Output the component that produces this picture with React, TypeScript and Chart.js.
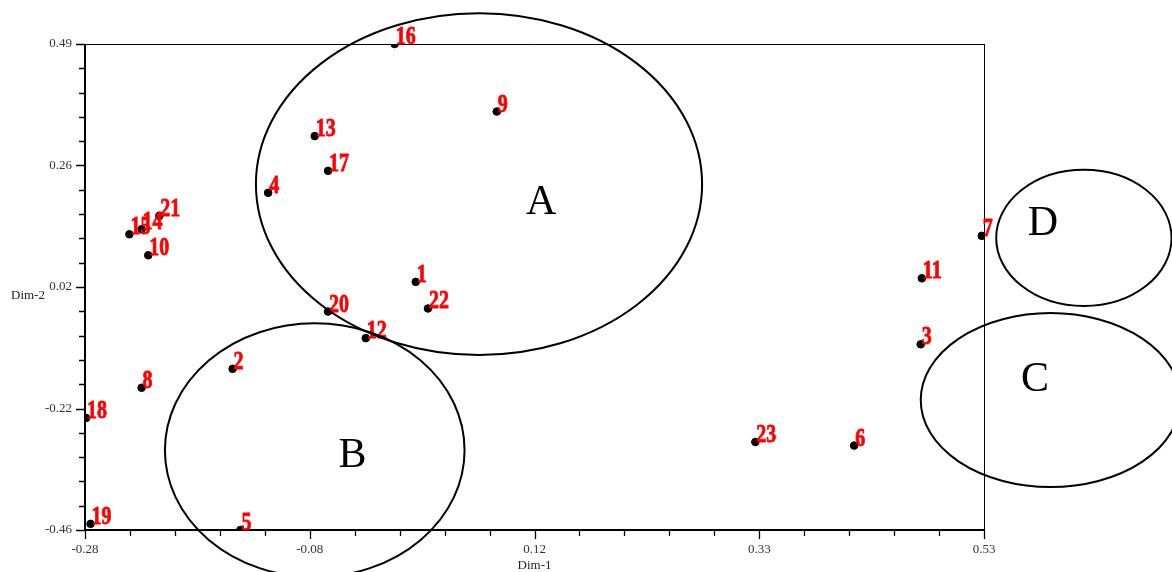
import React, { useEffect, useRef } from "react";
import { Chart, registerables } from "chart.js";

Chart.register(...registerables);

const pointIds = ["1","2","3","4","5","6","7","8","9","10","11","12","13","14","15","16","17","18","19","20","21","22","23"];
const dim1 = [0.018,-0.147,0.473,-0.115,-0.140,0.413,0.528,-0.229,0.091,-0.223,0.474,-0.027,-0.073,-0.229,-0.240,-0.001,-0.061,-0.279,-0.275,-0.061,-0.213,0.029,0.324];
const dim2 = [0.025,-0.145,-0.097,0.199,-0.460,-0.295,0.115,-0.182,0.358,0.077,0.032,-0.085,0.310,0.128,0.118,0.490,0.242,-0.241,-0.448,-0.033,0.154,-0.027,-0.288];

const xTickLabels = ["-0.28","-0.08","0.12","0.33","0.53"];
const yTickLabels = ["-0.46","-0.22","0.02","0.26","0.49"];
const xMin = -0.28, xMax = 0.53;
const yMin = -0.46, yMax = 0.49;

// ellipses in data units
const ellipseNames = ["A","B","C","D"];
const ellipseCx = [0.075,-0.073,0.590,0.620];
const ellipseCy = [0.216,-0.304,-0.206,0.111];
const ellipseRx = [0.201,0.135,0.117,0.079];
const ellipseRy = [0.334,0.248,0.170,0.133];
const ellipseLabelX = [0.131,-0.039,0.576,0.583];
const ellipseLabelY = [0.179,-0.315,-0.167,0.138];

const SERIF = "'Liberation Serif', 'Times New Roman', serif";

const overlay = {
  id: "overlay",
  afterDraw(chart: any) {
    const ctx = chart.ctx;
    const xs = chart.scales.x;
    const ys = chart.scales.y;
    const ca = chart.chartArea;
    ctx.save();
    // frame
    ctx.strokeStyle = "#000";
    ctx.lineWidth = 1;
    ctx.beginPath();
    ctx.moveTo(ca.left, ca.top + 0.5);
    ctx.lineTo(ca.right, ca.top + 0.5);
    ctx.moveTo(ca.right + 0.5, ca.top);
    ctx.lineTo(ca.right + 0.5, ca.bottom);
    ctx.stroke();
    ctx.lineWidth = 2;
    ctx.beginPath();
    ctx.moveTo(ca.left, ca.top);
    ctx.lineTo(ca.left, ca.bottom);
    ctx.lineTo(ca.right + 1, ca.bottom);
    ctx.stroke();
    // ticks
    ctx.lineWidth = 1.3;
    ctx.beginPath();
    xs.ticks.forEach((t: any, i: number) => {
      const px = Math.round(xs.getPixelForValue(t.value)) + 0.5;
      const len = i % 5 === 0 ? 9 : 6;
      ctx.moveTo(px, ca.bottom);
      ctx.lineTo(px, ca.bottom + len);
    });
    ys.ticks.forEach((t: any, i: number) => {
      const py = Math.round(ys.getPixelForValue(t.value)) + 0.5;
      const len = i % 5 === 0 ? 9 : 6;
      ctx.moveTo(ca.left, py);
      ctx.lineTo(ca.left - len, py);
    });
    ctx.stroke();
    // axis titles
    ctx.fillStyle = "#222";
    ctx.font = `13px ${SERIF}`;
    ctx.textBaseline = "middle";
    ctx.textAlign = "center";
    ctx.fillText("Dim-1", (ca.left + ca.right) / 2, 566);
    ctx.textAlign = "left";
    ctx.fillText("Dim-2", 11, (ca.top + ca.bottom) / 2 + 9);
    // point labels (tall, condensed bold)
    ctx.fillStyle = "#ff0000";
    ctx.strokeStyle = "#ff0000";
    ctx.lineWidth = 0.8;
    ctx.font = `bold 25px ${SERIF}`;
    ctx.textAlign = "left";
    ctx.textBaseline = "alphabetic";
    pointIds.forEach((id, i) => {
      const px = xs.getPixelForValue(dim1[i]);
      const py = ys.getPixelForValue(dim2[i]);
      ctx.save();
      ctx.translate(px + 1, py);
      ctx.scale(0.8, 1);
      ctx.fillText(id, 0, 0);
      ctx.strokeText(id, 0, 0);
      ctx.restore();
    });
    // ellipses
    ctx.strokeStyle = "#000";
    ctx.lineWidth = 2;
    ellipseNames.forEach((n, i) => {
      const cx = xs.getPixelForValue(ellipseCx[i]);
      const cy = ys.getPixelForValue(ellipseCy[i]);
      const rx = Math.abs(xs.getPixelForValue(ellipseCx[i] + ellipseRx[i]) - cx);
      const ry = Math.abs(ys.getPixelForValue(ellipseCy[i] + ellipseRy[i]) - cy);
      ctx.beginPath();
      ctx.ellipse(cx, cy, rx, ry, 0, 0, Math.PI * 2);
      ctx.stroke();
    });
    ctx.fillStyle = "#000";
    ctx.font = `42px ${SERIF}`;
    ctx.textAlign = "center";
    ctx.textBaseline = "middle";
    ellipseNames.forEach((n, i) => {
      ctx.fillText(n, xs.getPixelForValue(ellipseLabelX[i]), ys.getPixelForValue(ellipseLabelY[i]));
    });
    ctx.restore();
  },
};

export default function App() {
  const ref = useRef<HTMLCanvasElement | null>(null);
  useEffect(() => {
    document.body.style.margin = "0";
    const canvas = ref.current;
    if (!canvas) return;
    const data = dim1.map((x, i) => ({ x, y: dim2[i] }));
    const chart = new Chart(canvas, {
      type: "scatter",
      data: {
        datasets: [
          {
            data,
            backgroundColor: "#000",
            borderColor: "#000",
            pointRadius: 3.8,
            pointHoverRadius: 3.8,
          },
        ],
      },
      options: {
        animation: false,
        responsive: false,
        events: [],
        layout: { padding: { top: 44, right: 188, left: 0, bottom: 0 } },
        plugins: { legend: { display: false }, tooltip: { enabled: false } },
        scales: {
          x: {
            type: "linear",
            min: xMin,
            max: xMax,
            afterBuildTicks: (s: any) => {
              s.ticks = Array.from({ length: 21 }, (_, i) => ({ value: xMin + (i * (xMax - xMin)) / 20 }));
            },
            afterFit: (s: any) => { s.height = 42; },
            grid: { display: true, drawOnChartArea: false, drawTicks: true, tickLength: 9, color: "rgba(0,0,0,0)" },
            border: { display: false },
            ticks: {
              autoSkip: false,
              maxRotation: 0,
              padding: 3,
              color: "#333",
              font: { family: SERIF, size: 13 },
              callback: (_v: any, i: number) => (i % 5 === 0 ? xTickLabels[i / 5] : ""),
            },
          },
          y: {
            type: "linear",
            min: yMin,
            max: yMax,
            afterBuildTicks: (s: any) => {
              s.ticks = Array.from({ length: 21 }, (_, i) => ({ value: yMin + (i * (yMax - yMin)) / 20 }));
            },
            afterFit: (s: any) => { s.width = 85; },
            grid: { display: true, drawOnChartArea: false, drawTicks: true, tickLength: 9, color: "rgba(0,0,0,0)" },
            border: { display: false },
            ticks: {
              autoSkip: false,
              padding: 4,
              color: "#333",
              font: { family: SERIF, size: 13 },
              callback: (_v: any, i: number) => (i % 5 === 0 ? yTickLabels[i / 5] : ""),
            },
          },
        },
      },
      plugins: [overlay],
    });
    return () => chart.destroy();
  }, []);
  return (
    <div style={{ width: 1172, height: 572 }}>
      <canvas ref={ref} width={1172} height={572} style={{ display: "block" }} />
    </div>
  );
}
